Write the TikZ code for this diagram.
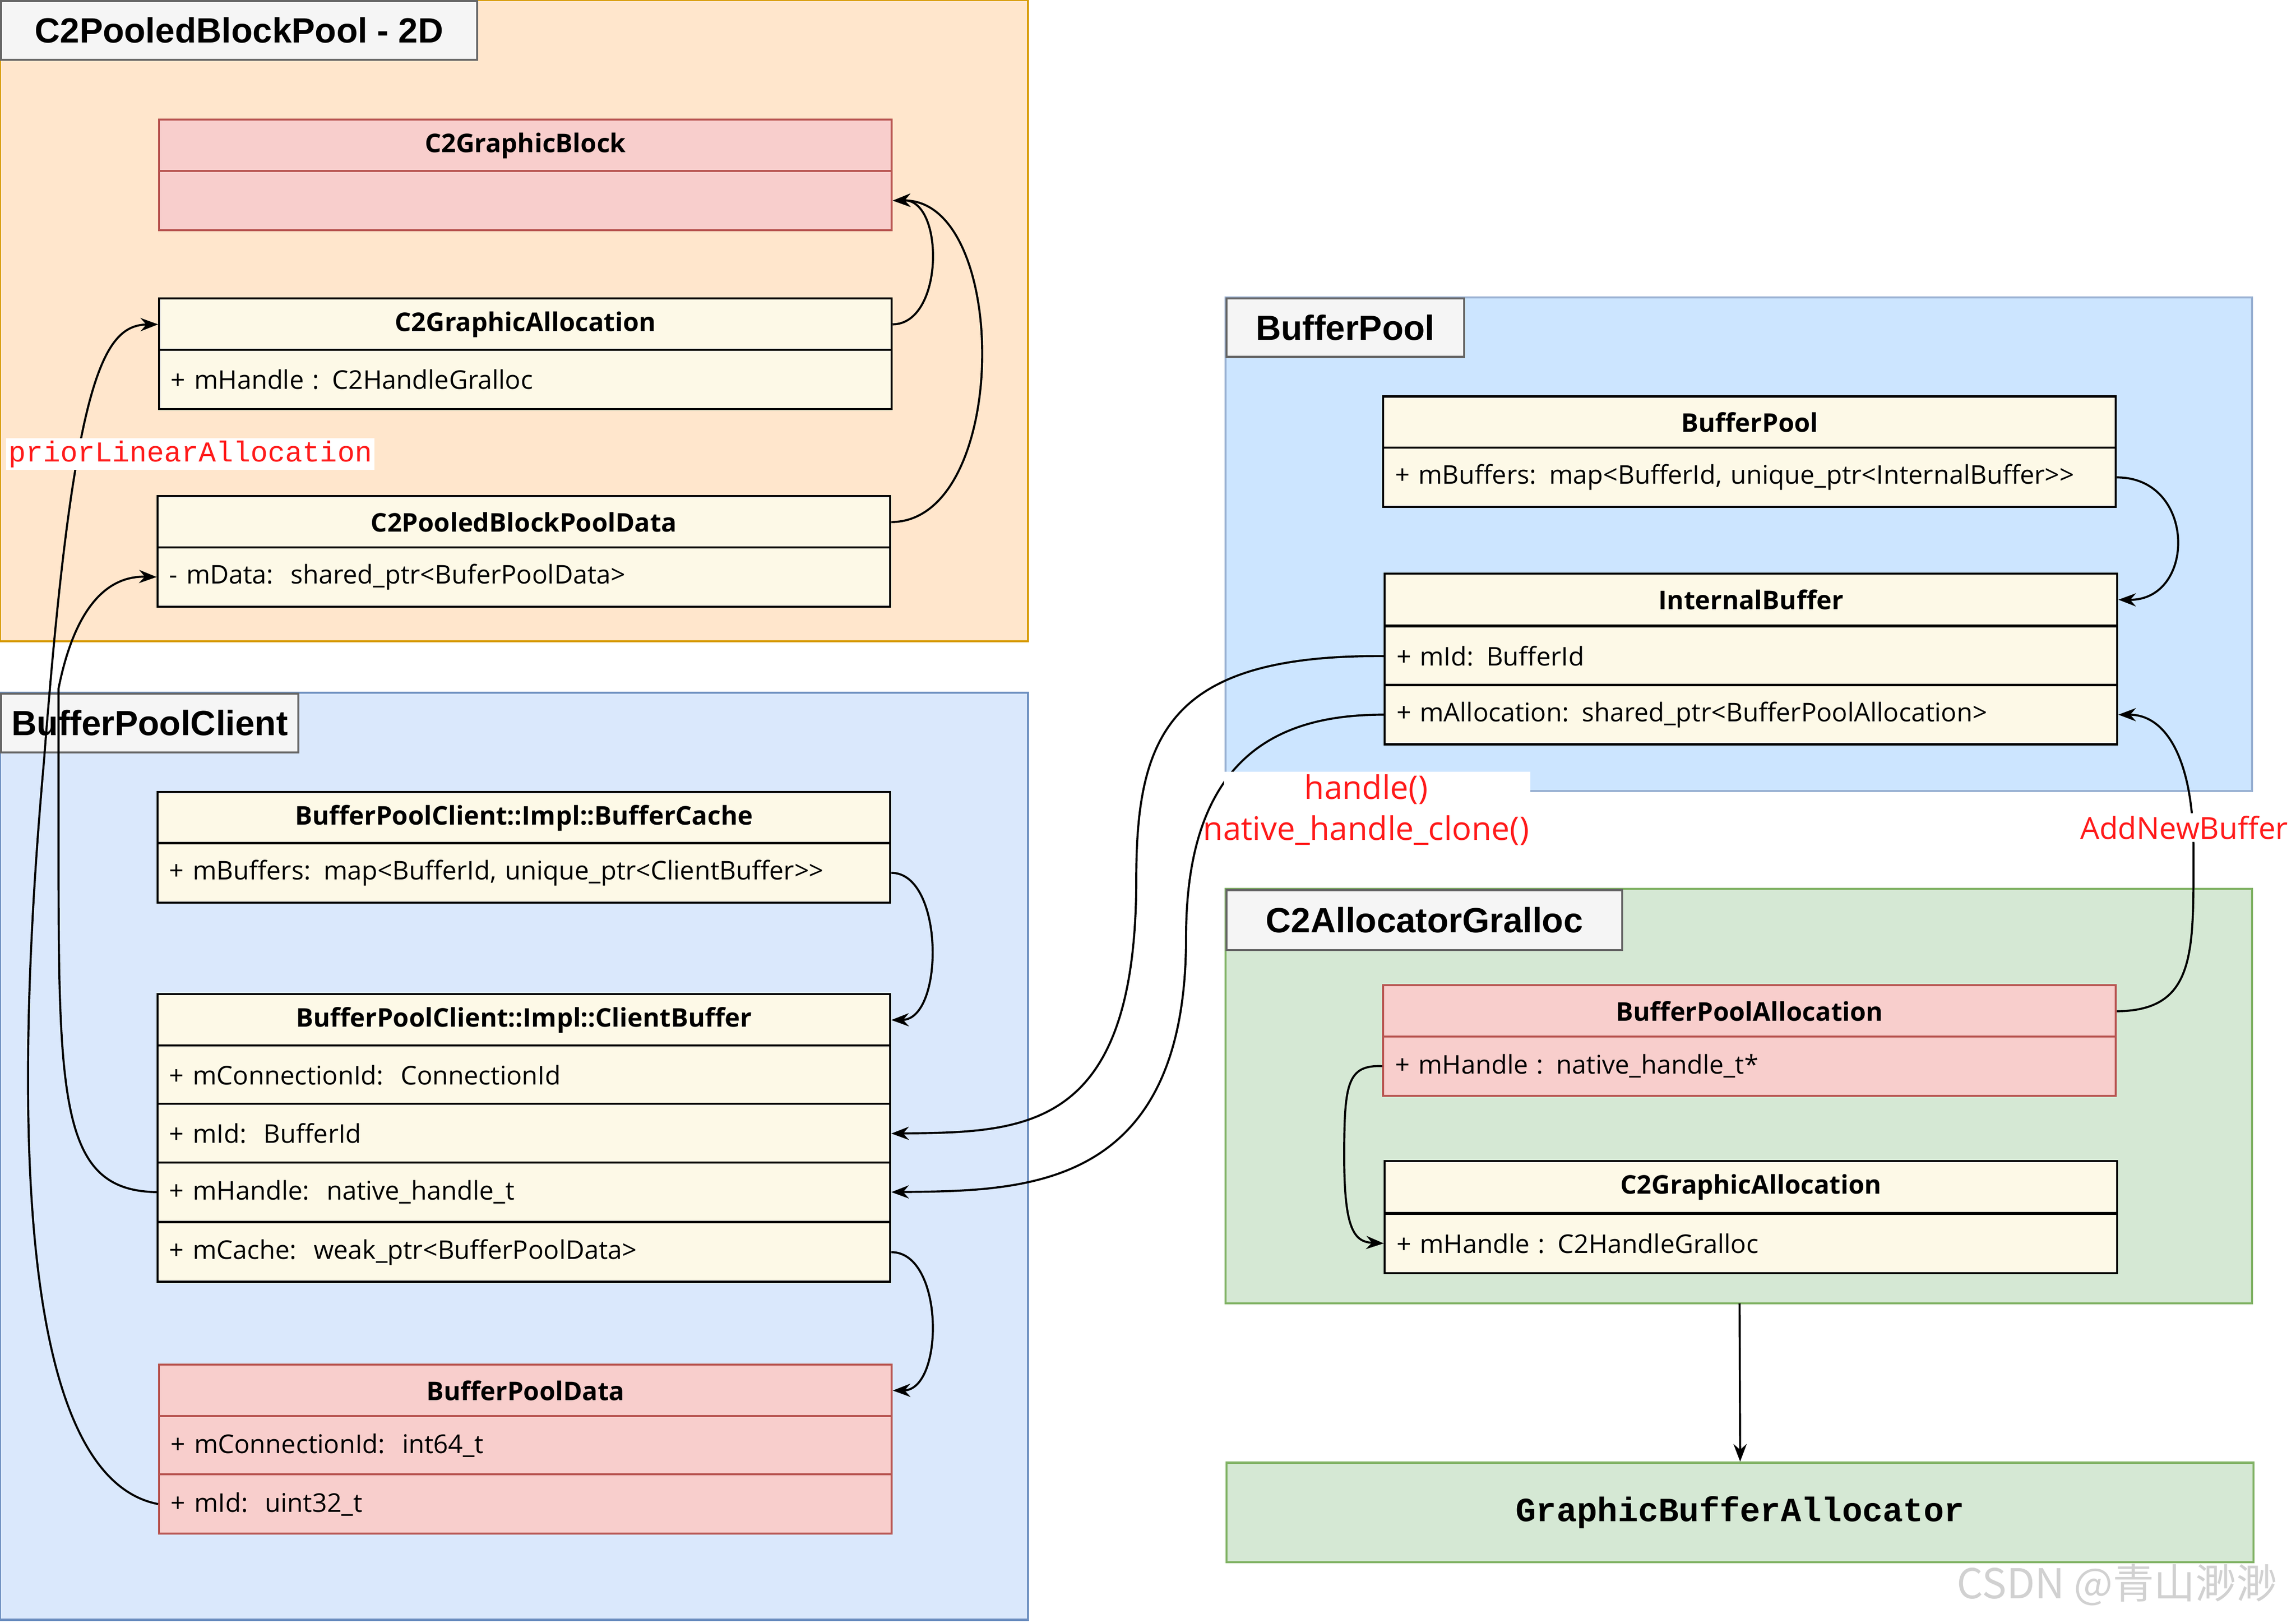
\documentclass[tikz,border=0pt]{standalone}
\usepackage{fontspec}
\setmainfont{Open Sans}
\newfontfamily\titlefont{Liberation Sans}
\newfontfamily\codefont{Liberation Mono}
\newfontfamily\cjkfont{Noto Sans CJK SC}
\usetikzlibrary{arrows.meta,positioning}
\definecolor{orgfill}{HTML}{FFE6CC}
\definecolor{orgdraw}{HTML}{D79B00}
\definecolor{bluefill}{HTML}{DAE8FC}
\definecolor{bluedraw}{HTML}{6C8EBF}
\definecolor{poolfill}{HTML}{CCE5FF}
\definecolor{greenfill}{HTML}{D5E8D4}
\definecolor{greendraw}{HTML}{82B366}
\definecolor{pinkfill}{HTML}{F8CECC}
\definecolor{pinkdraw}{HTML}{B85450}
\definecolor{clsfill}{HTML}{FDF9E7}
\definecolor{lblred}{HTML}{FF1A1A}
\tikzset{
    frame/.style={
           draw=#1,
           },
    frametitle/.style={
           draw=black!60,
           fill=black!4,
           anchor=north west,
           font=\titlefont\bfseries\fontsize{6.8}{8}\selectfont,
           inner sep=0,
           },
    hdr/.style={
           draw=black,
           fill=clsfill,
           anchor=north west,
           minimum width=5cm,
           minimum height=0.355cm,
           inner sep=0,
           font=\bfseries\fontsize{5}{6}\selectfont,
           },
    row/.style={
           draw=black,
           fill=clsfill,
           anchor=north west,
           text width=4.84cm,
           inner xsep=0.08cm,
           inner ysep=0,
           minimum height=0.405cm,
           align=left,
           font=\fontsize{5}{6}\selectfont,
           },
    pink/.style={
           fill=pinkfill,
           draw=pinkdraw,
           },
    pil/.style={
           -{Stealth[length=0.12cm,width=0.09cm]},
           thin,
           },
    redlbl/.style={
           text=lblred,
           font=\fontsize{6.3}{7}\selectfont,
           inner sep=0,
           }
}
\begin{document}
\begin{tikzpicture}[x=0.01cm,y=-0.01cm]
\useasboundingbox (0,0) rectangle (1568,1108);
% frames
\draw[frame=orgdraw, fill=orgfill] (0,0) rectangle (702,438);
\node[frametitle, minimum width=3.25cm, minimum height=0.4cm] (t1) at (0,0) {C2PooledBlockPool - 2D};
\draw[frame=bluedraw, fill=bluefill] (0,473) rectangle (702,1106);
\node[frametitle, minimum width=2.03cm, minimum height=0.4cm] (t2) at (0,473) {BufferPoolClient};
\draw[frame=bluedraw!70, fill=poolfill] (837,203) rectangle (1538,540);
\node[frametitle, minimum width=1.62cm, minimum height=0.4cm] (t3) at (837,203) {BufferPool};
\draw[frame=greendraw, fill=greenfill] (837,607) rectangle (1538,890);
\node[frametitle, minimum width=2.7cm, minimum height=0.41cm] (t4) at (837,607) {C2AllocatorGralloc};
\node[draw=greendraw, fill=greenfill, anchor=north west, minimum width=7.01cm, minimum height=0.68cm,
      font=\codefont\bfseries\fontsize{6.6}{8}\selectfont] (gba) at (837,998) {GraphicBufferAllocator};

% C2PooledBlockPool - 2D
\node[hdr, pink] (gb) at (108,81) {C2GraphicBlock};
\node[row, pink] (gbrow) at (108,116) {~};
\node[hdr] (ga) at (108,203) {C2GraphicAllocation};
\node[row] (garow) at (108,238) {+ mHandle : C2HandleGralloc};
\node[hdr] (pd) at (107,338) {C2PooledBlockPoolData};
\node[row] (pdrow) at (107,373) {- mData:\ \ shared\_ptr<BuferPoolData>};

% BufferPoolClient
\node[hdr] (bc) at (107,540) {BufferPoolClient::Impl::BufferCache};
\node[row] (bcrow) at (107,575) {+ mBuffers: map<BufferId, unique\_ptr<ClientBuffer>{}>};
\node[hdr] (cb) at (107,678) {BufferPoolClient::Impl::ClientBuffer};
\node[row] (cbconn) at (107,713) {+ mConnectionId:\ \ ConnectionId};
\node[row] (cbid) at (107,753) {+ mId:\ \ BufferId};
\node[row] (cbhandle) at (107,793) {+ mHandle:\ \ native\_handle\_t};
\node[row] (cbcache) at (107,834) {+ mCache:\ \ weak\_ptr<BufferPoolData>};
\node[hdr, pink] (bpd) at (108,931) {BufferPoolData};
\node[row, pink] (bpdconn) at (108,966) {+ mConnectionId:\ \ int64\_t};
\node[row, pink] (bpdid) at (108,1006) {+ mId:\ \ uint32\_t};

% BufferPool
\node[hdr] (bp) at (944,270) {BufferPool};
\node[row] (bprow) at (944,305) {+ mBuffers: map<BufferId, unique\_ptr<InternalBuffer>{}>};
\node[hdr] (ib) at (945,391) {InternalBuffer};
\node[row] (ibid) at (945,427) {+ mId: BufferId};
\node[row] (iballoc) at (945,467) {+ mAllocation: shared\_ptr<BufferPoolAllocation>};

% C2AllocatorGralloc
\node[hdr, pink] (bpa) at (944,672) {BufferPoolAllocation};
\node[row, pink] (bparow) at (944,707) {+ mHandle : native\_handle\_t*};
\node[hdr] (ga2) at (945,792) {C2GraphicAllocation};
\node[row] (ga2row) at (945,828) {+ mHandle : C2HandleGralloc};

% connectors
\draw[pil] (ga.east) .. controls (645,221) and (645,136) .. (gbrow.east);
\draw[pil] (pd.east) .. controls (690,356) and (690,136) .. (gbrow.east);
\draw[pil] (bpdid.west) .. controls (20,1010) and (5,800) .. (30,520)
           .. controls (50,260) and (70,222) .. (ga.west);
\draw[pil] (cbhandle.west) .. controls (45,813) and (40,760) .. (40,600)
           -- (40,470) .. controls (50,420) and (70,393) .. (pdrow.west);
\draw[pil] (bcrow.east) .. controls (645,596) and (645,696) .. (cb.east);
\draw[pil] (cbcache.east) .. controls (645,855) and (645,949) .. (bpd.east);
\draw[pil] (bprow.east) .. controls (1500,326) and (1500,410) .. (ib.east);
\draw[pil] (ibid.west) .. controls (800,447) and (776,500) .. (776,600)
           .. controls (776,773) and (700,773) .. (cbid.east);
\draw[pil] (iballoc.west) .. controls (880,488) and (810,510) .. (810,640)
           .. controls (810,813) and (700,813) .. (cbhandle.east);
\draw[pil] (bpa.east) .. controls (1500,690) and (1498,650) .. (1498,580)
           .. controls (1498,520) and (1480,488) .. (iballoc.east);
\draw[pil] (bparow.west) .. controls (920,727) and (918,740) .. (918,790)
           .. controls (918,840) and (925,848) .. (ga2row.west);
\draw[pil] (1188,890) -- (gba.north);

% labels
\node[fill=white, inner sep=0.5pt, text=lblred, font=\codefont\fontsize{5.6}{7}\selectfont] (plab) at (130,310) {priorLinearAllocation};
\fill[white] (836,527) rectangle (1045,580);
\node[redlbl] (hlab) at (933,539) {handle()};
\node[redlbl] (nlab) at (933,567) {native\_handle\_clone()};
\node[redlbl, fill=white, inner sep=0.5pt, anchor=east, font=\fontsize{5.9}{7}\selectfont] (alab) at (1565,565) {AddNewBuffer};
\node[text=black!18, anchor=east, font=\cjkfont\fontsize{8}{9}\selectfont] (wm) at (1568,1082) {CSDN @青山渺渺};
\end{tikzpicture}
\end{document}
